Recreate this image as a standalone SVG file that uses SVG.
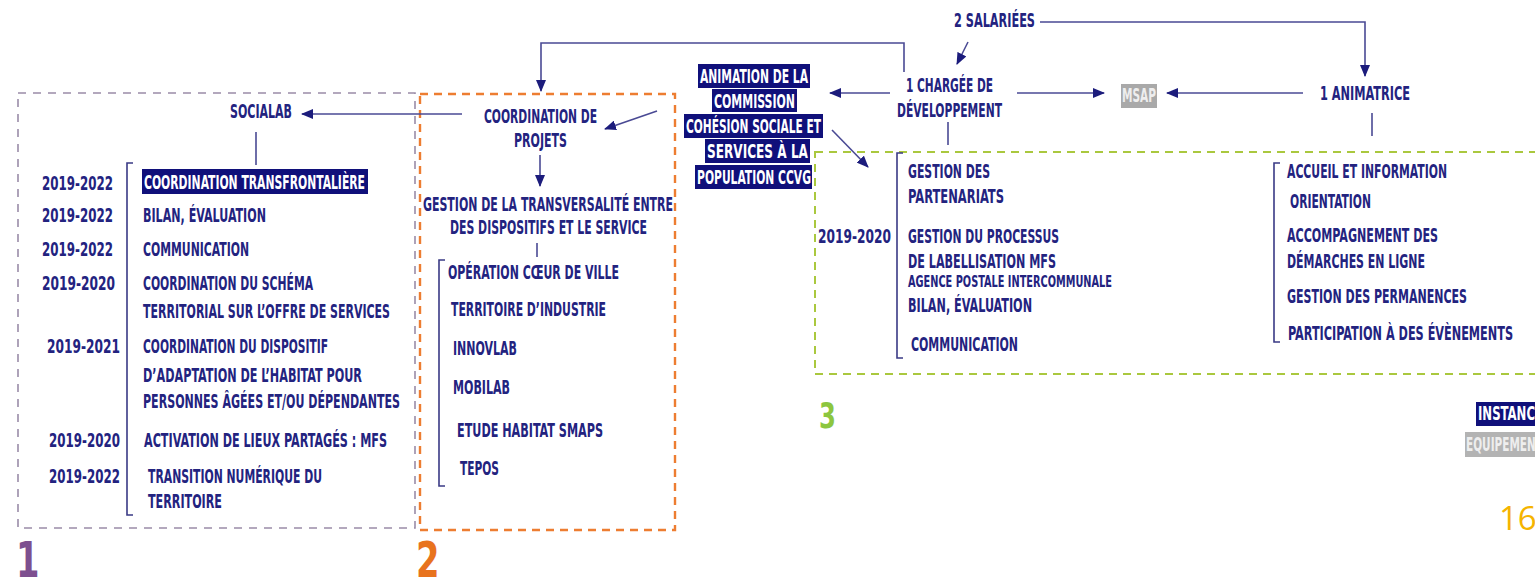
<svg xmlns="http://www.w3.org/2000/svg" width="1535" height="578" viewBox="0 0 1535 578">
<style>
.t{font-family:"DejaVu Sans Condensed","DejaVu Sans","Liberation Sans",sans-serif;font-stretch:condensed;font-weight:bold;font-size:20px;fill:#23237f}
.s{font-size:16px}
.w{fill:#ffffff}
.g{fill:#eeeeee}
.hl{fill:#10107a}
.ln{stroke:#4a4a94;stroke-width:1.6;fill:none}
.ar{stroke:#4a4a94;stroke-width:1.6;fill:none;marker-end:url(#ah)}
.br{stroke:#3a3a85;stroke-width:1.6;fill:none}
.num{font-family:"DejaVu Sans Condensed","DejaVu Sans","Liberation Sans",sans-serif;font-stretch:condensed;font-weight:bold}
</style>
<defs>
<marker id="ah" markerWidth="12" markerHeight="10" refX="11" refY="5" orient="auto" markerUnits="userSpaceOnUse"><path d="M0,0 L12,5 L0,10 Z" fill="#1c1c7c"/></marker>
</defs>
<rect width="1535" height="578" fill="#ffffff"/>

<g id="box1">
<rect x="18" y="93" width="397" height="435" fill="none" stroke="#9a8ca8" stroke-width="1.6" stroke-dasharray="8,7"/>
<text class="num" transform="translate(16 577) scale(0.75 1)" font-size="50" fill="#7d4f8f">1</text>
</g>
<g id="box2">
<rect x="420" y="94" width="255" height="436" fill="none" stroke="#ed7d31" stroke-width="2.4" stroke-dasharray="8,6"/>
<text class="num" transform="translate(416 577) scale(0.75 1)" font-size="50" fill="#e8731e">2</text>
</g>
<g id="box3">
<rect x="815" y="152" width="740" height="222" fill="none" stroke="#aac83e" stroke-width="2" stroke-dasharray="8,6"/>
<text class="num" transform="translate(819 428) scale(0.75 1)" font-size="36" fill="#8dc63f">3</text>
</g>

<g id="connectors">
<path class="ar" d="M904,72 V43 H541 V91"/>
<path class="ar" d="M968,42 L957,64"/>
<path class="ar" d="M1040,22 H1365 V76"/>
<path class="ar" d="M890,93 L830,93"/>
<path class="ar" d="M1017,93 L1104,93"/>
<path class="ar" d="M1303,93 L1167,93"/>
<path class="ar" d="M832,130 L868,167"/>
<path class="ar" d="M657,111 L605,129"/>
<path class="ar" d="M462,114 L302,114"/>
<path class="ar" d="M540,155 L540,186"/>
<path class="ln" d="M256,132 V165"/>
<path class="ln" d="M537,243 V257"/>
<path class="ln" d="M948,122 V145"/>
<path class="ln" d="M1372,113 V136"/>
<path class="br" d="M133,163 H127 V515 H133"/>
<path class="br" d="M445,260 H439 V486 H445"/>
<path class="br" d="M903,153 H897 V358 H903"/>
<path class="br" d="M1280,163 H1274 V342 H1280"/>
</g>

<g id="socialab">
<text class="t" transform="translate(230 118) scale(0.6 1)" font-size="19" textLength="103.3" lengthAdjust="spacingAndGlyphs">SOCIALAB</text>
</g>
<g id="socialab-items">
<text class="t" transform="translate(42 190) scale(0.6 1)" textLength="118.3" lengthAdjust="spacingAndGlyphs">2019-2022</text>
<text class="t" transform="translate(42 222) scale(0.6 1)" textLength="118.3" lengthAdjust="spacingAndGlyphs">2019-2022</text>
<text class="t" transform="translate(42 256) scale(0.6 1)" textLength="118.3" lengthAdjust="spacingAndGlyphs">2019-2022</text>
<text class="t" transform="translate(42 290) scale(0.6 1)" textLength="121.7" lengthAdjust="spacingAndGlyphs">2019-2020</text>
<text class="t" transform="translate(47 353) scale(0.6 1)" textLength="121.7" lengthAdjust="spacingAndGlyphs">2019-2021</text>
<text class="t" transform="translate(49 447) scale(0.6 1)" textLength="118.3" lengthAdjust="spacingAndGlyphs">2019-2020</text>
<text class="t" transform="translate(49 483) scale(0.6 1)" textLength="118.3" lengthAdjust="spacingAndGlyphs">2019-2022</text>
<rect class="hl" x="142" y="169" width="226" height="25"/>
<text class="t w" transform="translate(144 189) scale(0.6 1)" textLength="368.3" lengthAdjust="spacingAndGlyphs">COORDINATION TRANSFRONTALIÈRE</text>
<text class="t" transform="translate(143 222) scale(0.6 1)" textLength="205" lengthAdjust="spacingAndGlyphs">BILAN, ÉVALUATION</text>
<text class="t" transform="translate(143 256) scale(0.6 1)" textLength="176.7" lengthAdjust="spacingAndGlyphs">COMMUNICATION</text>
<text class="t" transform="translate(143 290) scale(0.6 1)" textLength="283.3" lengthAdjust="spacingAndGlyphs">COORDINATION DU SCHÉMA</text>
<text class="t" transform="translate(143 318) scale(0.6 1)" textLength="411.7" lengthAdjust="spacingAndGlyphs">TERRITORIAL SUR L’OFFRE DE SERVICES</text>
<text class="t" transform="translate(143 353) scale(0.6 1)" textLength="308.3" lengthAdjust="spacingAndGlyphs">COORDINATION DU DISPOSITIF</text>
<text class="t" transform="translate(143 382) scale(0.6 1)" textLength="365" lengthAdjust="spacingAndGlyphs">D’ADAPTATION DE L’HABITAT POUR</text>
<text class="t" transform="translate(143 408) scale(0.6 1)" textLength="428.3" lengthAdjust="spacingAndGlyphs">PERSONNES ÂGÉES ET/OU DÉPENDANTES</text>
<text class="t" transform="translate(144 447) scale(0.6 1)" textLength="405" lengthAdjust="spacingAndGlyphs">ACTIVATION DE LIEUX PARTAGÉS : MFS</text>
<text class="t" transform="translate(148 483) scale(0.6 1)" textLength="290" lengthAdjust="spacingAndGlyphs">TRANSITION NUMÉRIQUE DU</text>
<text class="t" transform="translate(148 508) scale(0.6 1)" textLength="123.3" lengthAdjust="spacingAndGlyphs">TERRITOIRE</text>
</g>

<g id="coordination">
<text class="t" transform="translate(484 123) scale(0.6 1)" textLength="188.3" lengthAdjust="spacingAndGlyphs">COORDINATION DE</text>
<text class="t" transform="translate(514 147) scale(0.6 1)" textLength="88.3" lengthAdjust="spacingAndGlyphs">PROJETS</text>
</g>
<g id="transversalite">
<text class="t" transform="translate(423 211) scale(0.6 1)" textLength="416.7" lengthAdjust="spacingAndGlyphs">GESTION DE LA TRANSVERSALITÉ ENTRE</text>
<text class="t" transform="translate(450 234) scale(0.6 1)" textLength="328.3" lengthAdjust="spacingAndGlyphs">DES DISPOSITIFS ET LE SERVICE</text>
</g>
<g id="projets-items">
<text class="t" transform="translate(448 279) scale(0.6 1)" textLength="285" lengthAdjust="spacingAndGlyphs">OPÉRATION CŒUR DE VILLE</text>
<text class="t" transform="translate(451 316) scale(0.6 1)" textLength="258.3" lengthAdjust="spacingAndGlyphs">TERRITOIRE D’INDUSTRIE</text>
<text class="t" transform="translate(453 355) scale(0.6 1)" textLength="106.7" lengthAdjust="spacingAndGlyphs">INNOVLAB</text>
<text class="t" transform="translate(453 394) scale(0.6 1)" textLength="95" lengthAdjust="spacingAndGlyphs">MOBILAB</text>
<text class="t" transform="translate(457 437) scale(0.6 1)" textLength="243.3" lengthAdjust="spacingAndGlyphs">ETUDE HABITAT SMAPS</text>
<text class="t" transform="translate(460 475) scale(0.6 1)" textLength="65" lengthAdjust="spacingAndGlyphs">TEPOS</text>
</g>

<g id="animation">
<rect class="hl" x="698" y="64" width="112" height="24"/>
<rect class="hl" x="712" y="89" width="85" height="23"/>
<rect class="hl" x="684" y="114" width="139" height="24"/>
<rect class="hl" x="705" y="139" width="105" height="24"/>
<rect class="hl" x="695" y="165" width="117" height="24"/>
<text class="t w" transform="translate(700 83) scale(0.6 1)" textLength="180" lengthAdjust="spacingAndGlyphs">ANIMATION DE LA</text>
<text class="t w" transform="translate(714 108) scale(0.6 1)" textLength="135" lengthAdjust="spacingAndGlyphs">COMMISSION</text>
<text class="t w" transform="translate(686 133) scale(0.6 1)" textLength="225" lengthAdjust="spacingAndGlyphs">COHÉSION SOCIALE ET</text>
<text class="t w" transform="translate(707 158) scale(0.6 1)" textLength="168.3" lengthAdjust="spacingAndGlyphs">SERVICES À LA</text>
<text class="t w" transform="translate(697 184) scale(0.6 1)" textLength="190" lengthAdjust="spacingAndGlyphs">POPULATION CCVG</text>
</g>

<g id="salariees">
<text class="t" transform="translate(954 27) scale(0.6 1)" font-size="18" textLength="135" lengthAdjust="spacingAndGlyphs">2 SALARIÉES</text>
</g>
<g id="chargee">
<text class="t" transform="translate(906 92) scale(0.6 1)" textLength="145" lengthAdjust="spacingAndGlyphs">1 CHARGÉE DE</text>
<text class="t" transform="translate(897 117) scale(0.6 1)" textLength="175" lengthAdjust="spacingAndGlyphs">DÉVELOPPEMENT</text>
</g>
<g id="msap">
<rect x="1121" y="84" width="36" height="24" fill="#a9a9a9"/>
<text class="t g" transform="translate(1122 102) scale(0.6 1)" font-size="17" textLength="56.7" lengthAdjust="spacingAndGlyphs">MSAP</text>
</g>
<g id="animatrice">
<text class="t" transform="translate(1320 100) scale(0.6 1)" textLength="150" lengthAdjust="spacingAndGlyphs">1 ANIMATRICE</text>
</g>

<g id="chargee-items">
<text class="t" transform="translate(908 178) scale(0.6 1)" textLength="136.7" lengthAdjust="spacingAndGlyphs">GESTION DES</text>
<text class="t" transform="translate(908 203) scale(0.6 1)" textLength="160" lengthAdjust="spacingAndGlyphs">PARTENARIATS</text>
<text class="t" transform="translate(818 243) scale(0.6 1)" textLength="121.7" lengthAdjust="spacingAndGlyphs">2019-2020</text>
<text class="t" transform="translate(908 243) scale(0.6 1)" textLength="251.7" lengthAdjust="spacingAndGlyphs">GESTION DU PROCESSUS</text>
<text class="t" transform="translate(908 268) scale(0.6 1)" textLength="246.7" lengthAdjust="spacingAndGlyphs">DE LABELLISATION MFS</text>
<text class="t s" transform="translate(908 287) scale(0.6 1)" textLength="340" lengthAdjust="spacingAndGlyphs">AGENCE POSTALE INTERCOMMUNALE</text>
<text class="t" transform="translate(908 312) scale(0.6 1)" textLength="206.7" lengthAdjust="spacingAndGlyphs">BILAN, ÉVALUATION</text>
<text class="t" transform="translate(911 351) scale(0.6 1)" textLength="178.3" lengthAdjust="spacingAndGlyphs">COMMUNICATION</text>
</g>
<g id="animatrice-items">
<text class="t" transform="translate(1287 178) scale(0.6 1)" textLength="266.7" lengthAdjust="spacingAndGlyphs">ACCUEIL ET INFORMATION</text>
<text class="t" transform="translate(1290 208) scale(0.6 1)" textLength="135" lengthAdjust="spacingAndGlyphs">ORIENTATION</text>
<text class="t" transform="translate(1287 242) scale(0.6 1)" textLength="251.7" lengthAdjust="spacingAndGlyphs">ACCOMPAGNEMENT DES</text>
<text class="t" transform="translate(1287 268) scale(0.6 1)" textLength="230" lengthAdjust="spacingAndGlyphs">DÉMARCHES EN LIGNE</text>
<text class="t" transform="translate(1287 303) scale(0.6 1)" textLength="300" lengthAdjust="spacingAndGlyphs">GESTION DES PERMANENCES</text>
<text class="t" transform="translate(1288 340) scale(0.6 1)" textLength="375" lengthAdjust="spacingAndGlyphs">PARTICIPATION À DES ÉVÈNEMENTS</text>
</g>

<g id="legend">
<rect class="hl" x="1476" y="402" width="70" height="24"/>
<text class="t w" transform="translate(1478 420) scale(0.6 1)" textLength="108.3" lengthAdjust="spacingAndGlyphs">INSTANCE</text>
<rect x="1465" y="432" width="80" height="25" fill="#b3b3b3"/>
<text class="t g" transform="translate(1466 451) scale(0.6 1)" textLength="128.3" lengthAdjust="spacingAndGlyphs">EQUIPEMENT</text>
</g>
<g id="page">
<text x="1499" y="530" font-family="'Open Sans','Liberation Sans',sans-serif" font-size="33" fill="#f5b400">167</text>
</g>
</svg>
